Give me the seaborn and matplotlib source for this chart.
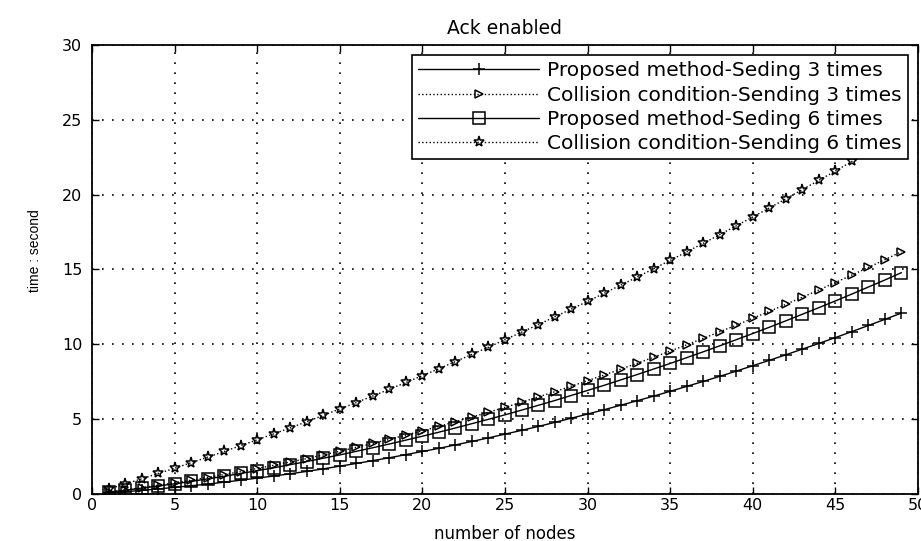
import numpy as np
import pandas as pd
import seaborn as sns
import matplotlib.pyplot as plt

nodes = list(range(1, 50))

proposed_3 = [0.07, 0.15, 0.24, 0.34, 0.44, 0.55, 0.66, 0.79, 0.92, 1.06,
              1.20, 1.35, 1.51, 1.68, 1.86, 2.04, 2.23, 2.42, 2.63, 2.84,
              3.05, 3.28, 3.51, 3.75, 4.00, 4.25, 4.51, 4.78, 5.06, 5.34,
              5.63, 5.93, 6.23, 6.54, 6.86, 7.19, 7.52, 7.86, 8.21, 8.57,
              8.93, 9.30, 9.68, 10.06, 10.45, 10.85, 11.26, 11.67, 12.09]

collision_3 = [0.13, 0.27, 0.42, 0.58, 0.75, 0.92, 1.10, 1.30, 1.49, 1.70,
               1.92, 2.14, 2.37, 2.61, 2.86, 3.12, 3.38, 3.65, 3.94, 4.22,
               4.52, 4.83, 5.14, 5.46, 5.79, 6.13, 6.48, 6.83, 7.20, 7.57,
               7.95, 8.34, 8.73, 9.14, 9.55, 9.97, 10.40, 10.84, 11.28, 11.74,
               12.20, 12.67, 13.15, 13.63, 14.13, 14.63, 15.14, 15.66, 16.19]

proposed_6 = [0.12, 0.25, 0.39, 0.53, 0.68, 0.84, 1.01, 1.18, 1.37, 1.56,
              1.75, 1.96, 2.17, 2.39, 2.61, 2.85, 3.09, 3.34, 3.60, 3.86,
              4.13, 4.41, 4.70, 4.99, 5.29, 5.60, 5.92, 6.24, 6.58, 6.92,
              7.26, 7.62, 7.98, 8.35, 8.72, 9.11, 9.50, 9.90, 10.31, 10.72,
              11.14, 11.57, 12.01, 12.45, 12.90, 13.36, 13.83, 14.30, 14.79]

collision_6 = [0.33, 0.67, 1.01, 1.37, 1.72, 2.09, 2.46, 2.84, 3.23, 3.62,
               4.02, 4.42, 4.83, 5.25, 5.68, 6.11, 6.55, 7.00, 7.45, 7.91,
               8.37, 8.85, 9.33, 9.81, 10.31, 10.81, 11.31, 11.83, 12.35, 12.87,
               13.41, 13.95, 14.49, 15.05, 15.61, 16.18, 16.75, 17.33, 17.92, 18.51,
               19.11, 19.72, 20.34, 20.96, 21.58, 22.22, 22.86, 23.51, 24.16]

labels = ["Proposed method-Seding 3 times",
          "Collision condition-Sending 3 times",
          "Proposed method-Seding 6 times",
          "Collision condition-Sending 6 times"]

sns.set_style("ticks", {"text.color": "k", "axes.labelcolor": "k",
                        "xtick.color": "k", "ytick.color": "k"})
plt.rcParams['font.family'] = ['DejaVu Sans']

fig = plt.figure(figsize=(9.21, 5.41), dpi=100)
ax = fig.add_axes([0.0999, 0.0869, 0.8968, 0.8299])

series = [proposed_3, collision_3, proposed_6, collision_6]
markers = ['+', '>', 's', '*']
styles = ['-', ':', '-', ':']
msizes = [9, 6, 8, 8]

for vals, lab, mk, ls, ms in zip(series, labels, markers, styles, msizes):
    sns.lineplot(x=nodes, y=vals, ax=ax, color='k', marker=mk, linestyle=ls,
                 markersize=ms, markerfacecolor='none', markeredgecolor='k',
                 markeredgewidth=1.1, linewidth=1.0, label=lab)

ax.set_xlim(0, 50)
ax.set_ylim(0, 30)
ax.set_xticks(range(0, 51, 5))
ax.set_yticks(range(0, 31, 5))
ax.grid(True, color='k', linestyle=(0, (1, 5)), linewidth=1.2)
ax.tick_params(direction='in', length=5, labelsize=11.5, width=1,
               top=True, right=True, colors='k')
ax.tick_params(axis='y', pad=7)
ax.tick_params(axis='x', pad=3)
for s in ax.spines.values():
    s.set_visible(True)
    s.set_linewidth(1.3)
    s.set_color('k')

ax.set_title("Ack enabled", fontsize=13.5, pad=8, color='k')
ax.set_xlabel("number of nodes", fontsize=12, color='k')
ax.xaxis.set_label_coords(0.5, -0.068)
ax.set_ylabel("time : second", fontsize=10, family='Liberation Sans', color='k')
ax.yaxis.set_label_coords(-0.0605, 0.543)

leg = ax.legend(loc='upper right', fontsize=14.5, handlelength=6.0,
                frameon=True, fancybox=False, borderaxespad=0.5,
                labelspacing=0.27, borderpad=0.3, handletextpad=0.4)
leg.get_frame().set_edgecolor('k')
leg.get_frame().set_linewidth(1.2)
leg.get_frame().set_alpha(1)
for t in leg.get_texts():
    t.set_color('k')

fig.savefig("out.png", dpi=100)
